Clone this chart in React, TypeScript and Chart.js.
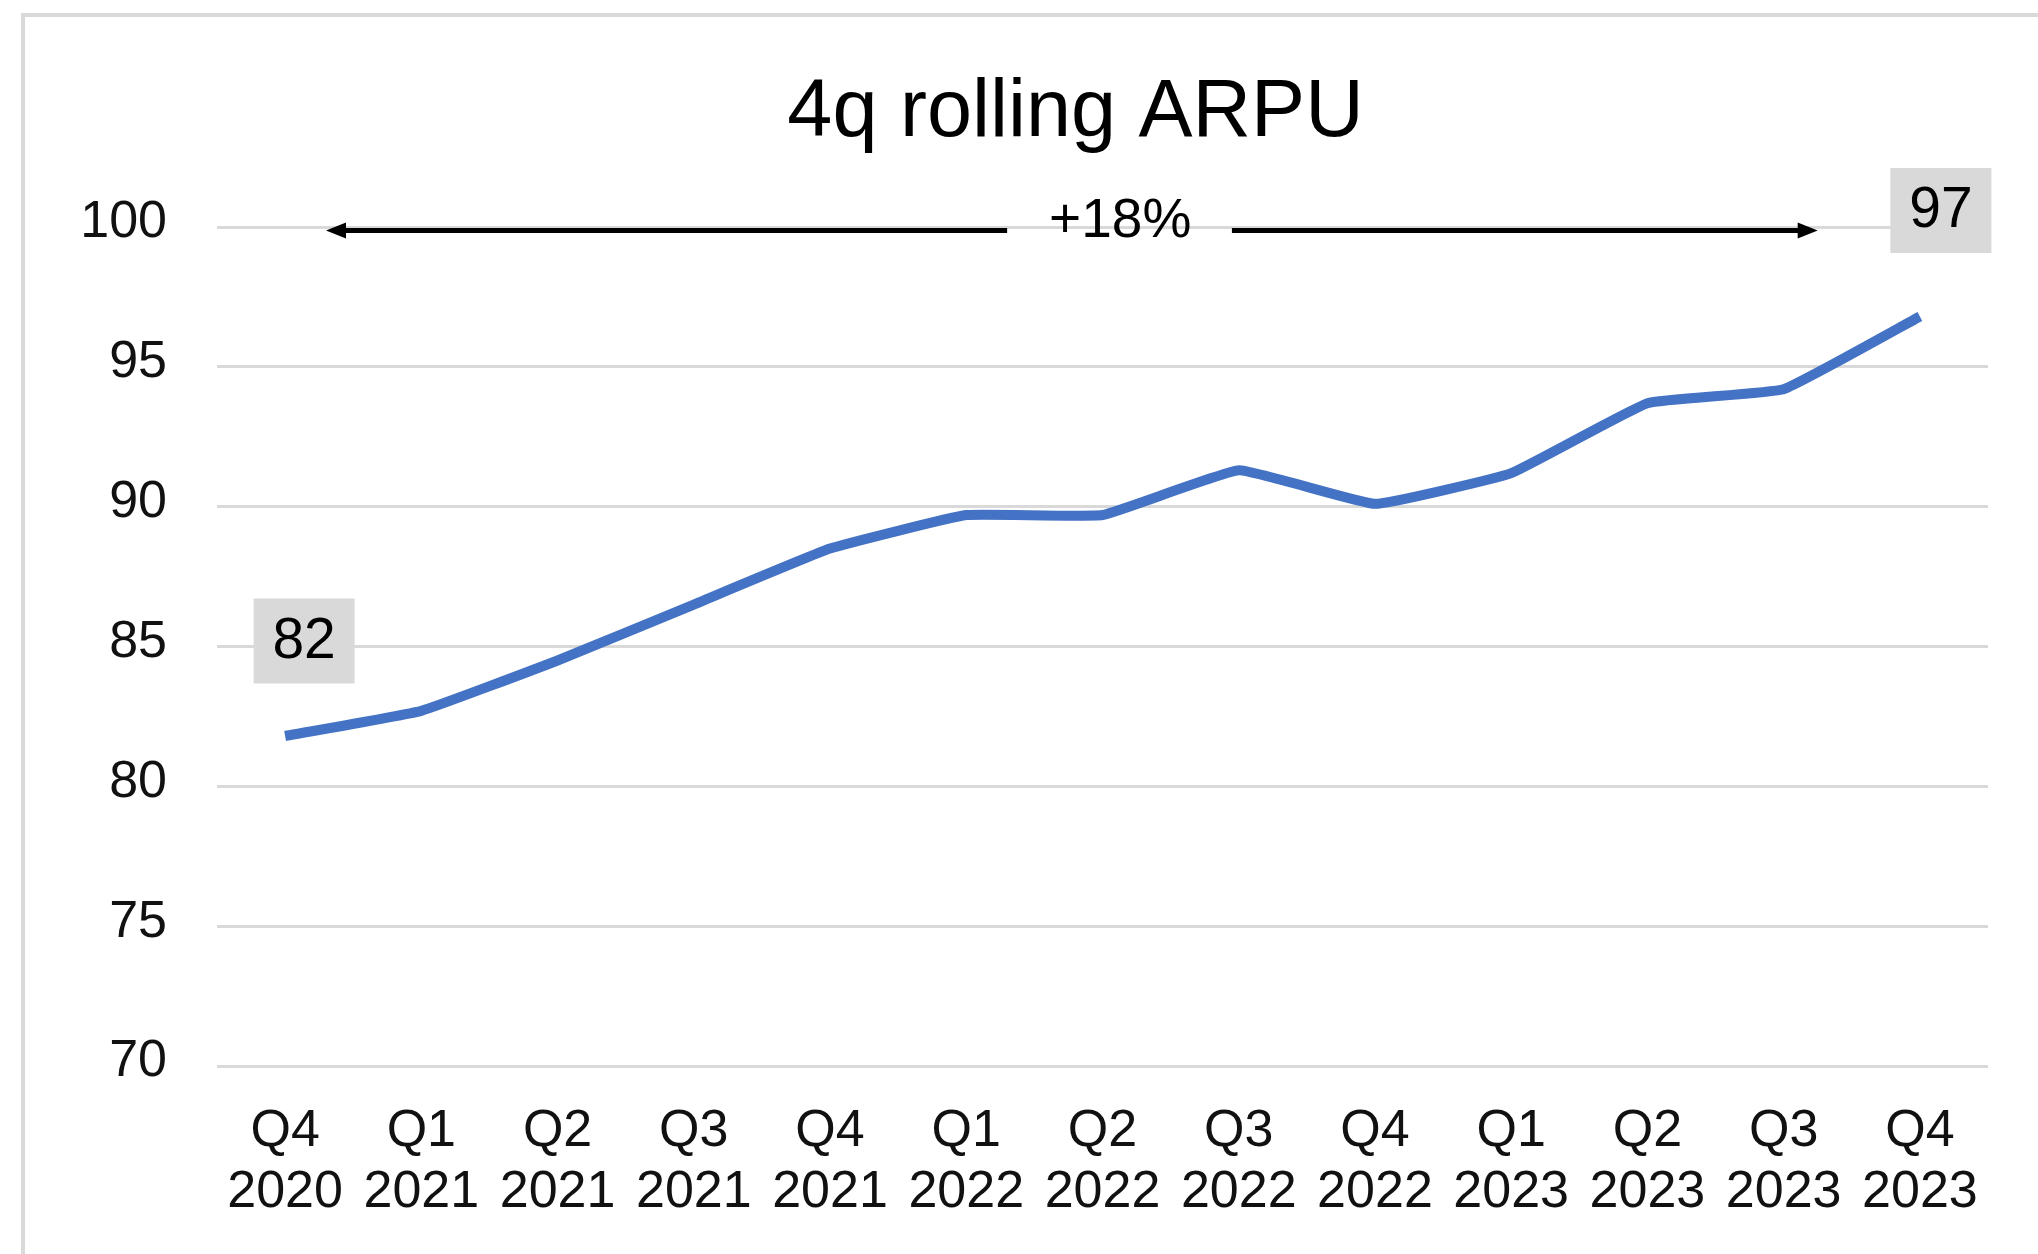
import React, { useEffect, useRef } from "react";
import { Chart, registerables } from "chart.js";

Chart.register(...registerables);

// ---- data ----
const quarters = ["Q4", "Q1", "Q2", "Q3", "Q4", "Q1", "Q2", "Q3", "Q4", "Q1", "Q2", "Q3", "Q4"];
const years = ["2020", "2021", "2021", "2021", "2021", "2022", "2022", "2022", "2022", "2023", "2023", "2023", "2023"];
const arpu = [81.8, 82.7, 84.5, 86.5, 88.5, 89.7, 89.7, 91.3, 90.1, 91.2, 93.7, 94.2, 96.8];
const yMin = 70;
const yMax = 100;
const yStep = 5;
const chartTitle = "4q rolling ARPU";
const growthLabel = "+18%";
const labelledIndices = [0, 12];

const FONT = '"Liberation Sans", Arial, Helvetica, sans-serif';
const GRID = "#d9d9d9";
const BLUE = "#4472c4";

const annotationPlugin = {
  id: "annotations",
  beforeDraw(chart: any) {
    const ctx = chart.ctx;
    ctx.save();
    ctx.strokeStyle = GRID;
    ctx.lineWidth = 4;
    ctx.beginPath();
    ctx.moveTo(23, chart.height + 20);
    ctx.lineTo(23, 15);
    ctx.lineTo(chart.width + 20, 15);
    ctx.stroke();
    ctx.restore();
  },
  afterDraw(chart: any) {
    const ctx = chart.ctx;
    const xs = chart.scales.x;
    const ys = chart.scales.y;
    const area = chart.chartArea;
    ctx.save();

    // title
    ctx.fillStyle = "#000";
    ctx.font = `81px ${FONT}`;
    ctx.textAlign = "center";
    ctx.textBaseline = "alphabetic";
    ctx.fillText(chartTitle, (area.left + area.right) / 2 - 27, 136);

    // growth arrow
    const ay = ys.getPixelForValue(yMax) + 3.5;
    const leftTip = xs.getPixelForValue(0.3);
    const leftEnd = xs.getPixelForValue(5.3);
    const rightStart = xs.getPixelForValue(6.95);
    const rightTip = xs.getPixelForValue(11.25);
    const headLen = 20;
    const headHalf = 8;
    ctx.strokeStyle = "#000";
    ctx.fillStyle = "#000";
    ctx.lineWidth = 5;
    ctx.beginPath();
    ctx.moveTo(leftTip + headLen - 2, ay);
    ctx.lineTo(leftEnd, ay);
    ctx.moveTo(rightStart, ay);
    ctx.lineTo(rightTip - headLen + 2, ay);
    ctx.stroke();
    ctx.beginPath();
    ctx.moveTo(leftTip, ay);
    ctx.lineTo(leftTip + headLen, ay - headHalf);
    ctx.lineTo(leftTip + headLen, ay + headHalf);
    ctx.closePath();
    ctx.fill();
    ctx.beginPath();
    ctx.moveTo(rightTip, ay);
    ctx.lineTo(rightTip - headLen, ay - headHalf);
    ctx.lineTo(rightTip - headLen, ay + headHalf);
    ctx.closePath();
    ctx.fill();

    ctx.font = `55px ${FONT}`;
    ctx.textAlign = "center";
    ctx.textBaseline = "alphabetic";
    ctx.fillText(growthLabel, xs.getPixelForValue(6.13), 237);

    // data labels
    const meta = chart.getDatasetMeta(0);
    const offsets = [
      [19, -95],
      [21, -106],
    ];
    const bw = 101;
    const bh = 85;
    labelledIndices.forEach((idx, k) => {
      const pt = meta.data[idx];
      const cx = pt.x + offsets[k][0];
      const cy = pt.y + offsets[k][1];
      ctx.fillStyle = GRID;
      ctx.fillRect(cx - bw / 2, cy - bh / 2, bw, bh);
      ctx.fillStyle = "#000";
      ctx.font = `57px ${FONT}`;
      ctx.textAlign = "center";
      ctx.textBaseline = "middle";
      ctx.fillText(String(Math.round(arpu[idx])), cx, cy + 1);
    });

    ctx.restore();
  },
};

export default function App() {
  const canvasRef = useRef<HTMLCanvasElement | null>(null);

  useEffect(() => {
    document.body.style.margin = "0";
    const canvas = canvasRef.current;
    if (!canvas) return;
    const chart = new Chart(canvas, {
      type: "line",
      data: {
        labels: quarters.map((q, i) => [q, years[i]]),
        datasets: [
          {
            data: arpu,
            borderColor: BLUE,
            backgroundColor: BLUE,
            borderWidth: 10,
            pointRadius: 0,
            pointHoverRadius: 0,
            tension: 0.1,
            borderCapStyle: "butt",
            borderJoinStyle: "round",
            fill: false,
          },
        ],
      },
      options: {
        responsive: false,
        animation: false,
        devicePixelRatio: 1,
        layout: { padding: { top: 227, right: 50, left: 0, bottom: 0 } },
        plugins: {
          legend: { display: false },
          tooltip: { enabled: false },
          title: { display: false },
        },
        scales: {
          x: {
            type: "category",
            offset: true,
            grid: { display: false, drawTicks: false },
            border: { display: false },
            ticks: {
              color: "#111",
              font: { family: FONT, size: 52, lineHeight: 1.17 },
              padding: 35,
              maxRotation: 0,
              minRotation: 0,
              autoSkip: false,
            },
            afterFit: (scale: any) => {
              scale.height = 188;
            },
          },
          y: {
            min: yMin,
            max: yMax,
            grid: { color: GRID, lineWidth: 3, drawTicks: false },
            border: { display: false },
            ticks: {
              stepSize: yStep,
              color: "#111",
              font: { family: FONT, size: 52 },
              padding: 50,
              labelOffset: -4,
            },
            afterFit: (scale: any) => {
              scale.width = 217;
            },
          },
        },
      },
      plugins: [annotationPlugin],
    });
    return () => chart.destroy();
  }, []);

  return (
    <div style={{ width: 2038, height: 1254, background: "#fff" }}>
      <canvas ref={canvasRef} width={2038} height={1254} style={{ display: "block" }} />
    </div>
  );
}
